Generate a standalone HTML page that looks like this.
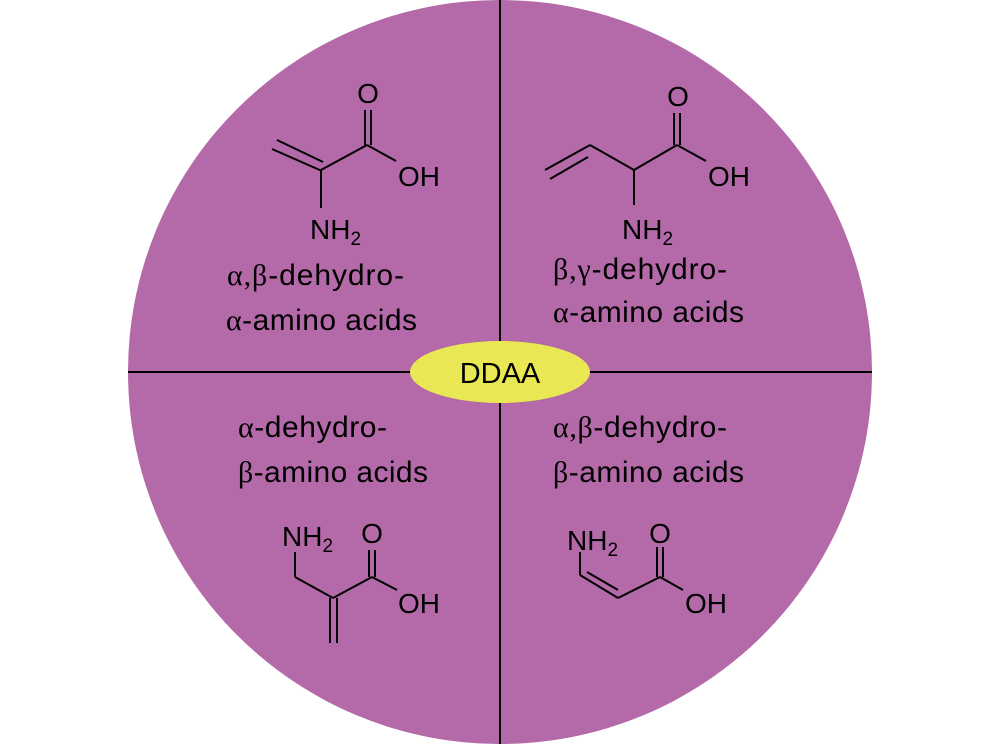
<!DOCTYPE html>
<html><head><meta charset="utf-8"><style>
html,body{margin:0;padding:0;background:#fff}
svg{display:block}
text{font-family:"Liberation Sans",sans-serif;fill:#000}
.g{font-family:"Liberation Serif",serif}
.lab{font-size:30px}
.at{font-size:28px}
.sub{font-size:19px}
</style></head><body>
<svg width="1000" height="744" viewBox="0 0 1000 744" xmlns="http://www.w3.org/2000/svg">
<circle cx="500" cy="372" r="372" fill="#b469a8"/>
<line x1="500" y1="0" x2="500" y2="744" stroke="#000" stroke-width="2"/>
<line x1="128" y1="372" x2="872" y2="372" stroke="#000" stroke-width="2"/>
<ellipse cx="500" cy="372" rx="90" ry="31" fill="#e9e753"/>
<text x="500" y="383" text-anchor="middle" font-size="29">DDAA</text>

<g stroke="#000" stroke-width="2" fill="none">
<line x1="272" y1="149" x2="322" y2="171"/>
<line x1="277" y1="140" x2="323" y2="162"/>
<line x1="321" y1="170" x2="321" y2="208"/>
<line x1="321" y1="170" x2="367" y2="145"/>
<line x1="365" y1="145" x2="365" y2="110"/>
<line x1="371" y1="145" x2="371" y2="110"/>
<line x1="367" y1="145" x2="396" y2="161"/>
<line x1="545" y1="170" x2="590" y2="145"/>
<line x1="550" y1="179" x2="588" y2="157"/>
<line x1="590" y1="145" x2="634" y2="170"/>
<line x1="634" y1="170" x2="634" y2="205"/>
<line x1="634" y1="170" x2="677" y2="145"/>
<line x1="674" y1="145" x2="674" y2="113"/>
<line x1="680" y1="145" x2="680" y2="113"/>
<line x1="677" y1="145" x2="706" y2="161"/>
<line x1="295" y1="552" x2="295" y2="577"/>
<line x1="295" y1="577" x2="333" y2="598"/>
<line x1="333" y1="598" x2="372" y2="577"/>
<line x1="330" y1="598" x2="330" y2="643"/>
<line x1="337" y1="598" x2="337" y2="643"/>
<line x1="369" y1="577" x2="369" y2="550"/>
<line x1="375" y1="577" x2="375" y2="550"/>
<line x1="372" y1="577" x2="397" y2="590"/>
<line x1="580" y1="552" x2="580" y2="575"/>
<line x1="580" y1="575" x2="618" y2="598"/>
<line x1="587" y1="572" x2="618" y2="590"/>
<line x1="618" y1="598" x2="660" y2="577"/>
<line x1="657" y1="577" x2="657" y2="547"/>
<line x1="663" y1="577" x2="663" y2="547"/>
<line x1="660" y1="577" x2="683" y2="590"/>
</g>

<text class="at" x="368" y="103" text-anchor="middle">O</text>
<text class="at" x="398" y="186">OH</text>
<text class="at" x="310" y="239">NH<tspan class="sub" dy="6">2</tspan></text>

<text class="at" x="678" y="106" text-anchor="middle">O</text>
<text class="at" x="708" y="186">OH</text>
<text class="at" x="622" y="239">NH<tspan class="sub" dy="6">2</tspan></text>

<text class="at" x="282" y="546">NH<tspan class="sub" dy="6">2</tspan></text>
<text class="at" x="372" y="543" text-anchor="middle">O</text>
<text class="at" x="398" y="613">OH</text>

<text class="at" x="567" y="550">NH<tspan class="sub" dy="6">2</tspan></text>
<text class="at" x="660" y="543" text-anchor="middle">O</text>
<text class="at" x="685" y="613">OH</text>

<text class="lab" x="227" y="285" textLength="177"><tspan class="g">α,β</tspan>-dehydro-</text>
<text class="lab" x="226" y="330" textLength="191"><tspan class="g">α</tspan>-amino acids</text>
<text class="lab" x="553" y="279" textLength="174"><tspan class="g">β,γ</tspan>-dehydro-</text>
<text class="lab" x="553" y="322" textLength="191"><tspan class="g">α</tspan>-amino acids</text>
<text class="lab" x="238" y="437" textLength="149"><tspan class="g">α</tspan>-dehydro-</text>
<text class="lab" x="238" y="482" textLength="190"><tspan class="g">β</tspan>-amino acids</text>
<text class="lab" x="553" y="437" textLength="174"><tspan class="g">α,β</tspan>-dehydro-</text>
<text class="lab" x="553" y="482" textLength="191"><tspan class="g">β</tspan>-amino acids</text>
</svg>
</body></html>
